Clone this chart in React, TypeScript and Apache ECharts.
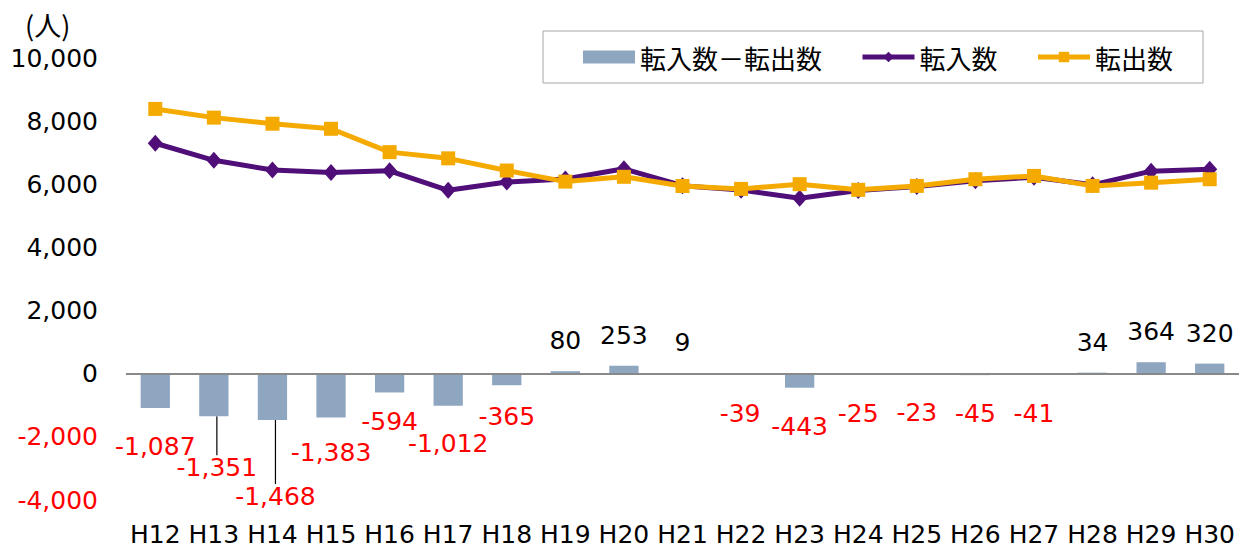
import { useEffect, useRef } from "react";
import * as echarts from "echarts";

const categories = ["H12", "H13", "H14", "H15", "H16", "H17", "H18", "H19", "H20", "H21", "H22", "H23", "H24", "H25", "H26", "H27", "H28", "H29", "H30"];
const netValues = [-1087, -1351, -1468, -1383, -594, -1012, -365, 80, 253, 9, -39, -443, -25, -23, -45, -41, 34, 364, 320];
const inflow = [7300, 6760, 6450, 6375, 6425, 5810, 6070, 6165, 6490, 5955, 5815, 5560, 5800, 5926, 6115, 6224, 5983, 6415, 6480];
const outflow = [8387, 8111, 7918, 7758, 7019, 6822, 6435, 6085, 6237, 5946, 5854, 6003, 5825, 5949, 6160, 6265, 5949, 6051, 6160];
const yTicks = { min: -4000, max: 10000, interval: 2000 };
const seriesNames = ["転入数－転出数", "転入数", "転出数"];
const unitLabel = "(人)";

// label displacement (dx, dy) for each data label, relative to bar end
const labelShift: [number, number][] = [
  [0, 26], [3, 39], [3, 64], [0, 23], [0, 17], [0, 25], [0, 19],
  [0, -18], [0, -18], [0, -18],
  [-1, 26], [0, 26], [0, 26], [0, 26], [0, 26], [0, 26],
  [0, -18], [0, -18], [0, -18],
];
const leaderIdx = [1, 2];

const FONT = '"DejaVu Sans", "Noto Sans CJK JP", sans-serif';
const JP = '"Noto Sans CJK JP", "DejaVu Sans", sans-serif';

const PURPLE = "#4F0E78";
const ORANGE = "#F4AA00";

export default function App() {
  const ref = useRef<HTMLDivElement>(null);
  useEffect(() => {
    if (!ref.current) return;
    const chart = echarts.init(ref.current, null, { renderer: "svg" });
    const fmt = (v: number) => Number(v).toLocaleString("en-US");
    chart.setOption({
      animation: false,
      backgroundColor: "#ffffff",
      textStyle: { fontFamily: FONT },
      grid: { left: 126, right: 7, top: 58, bottom: 50, containLabel: false },
      legend: {
        left: 543,
        top: 31,
        padding: [13, 30, 13, 40],
        borderColor: "#A6A6A6",
        borderWidth: 1,
        itemGap: 38,
        itemWidth: 52,
        itemHeight: 13,
        textStyle: { fontSize: 26, fontFamily: JP, color: "#000000" },
        data: [
          { name: seriesNames[0], icon: "rect" },
          { name: seriesNames[1], lineStyle: { width: 5, color: PURPLE } },
          { name: seriesNames[2], lineStyle: { width: 5, color: ORANGE } },
        ],
      },
      graphic: [
        {
          type: "text",
          left: 25,
          top: 11,
          style: { text: unitLabel, font: `27px ${JP}`, fill: "#000000" },
        },
      ],
      xAxis: {
        type: "category",
        data: categories,
        axisLine: { show: false, onZero: false },
        axisTick: { show: false },
        axisLabel: { fontSize: 25, lineHeight: 25, color: "#000000", margin: 22, fontFamily: FONT, interval: 0 },
        splitLine: { show: false },
      },
      yAxis: {
        type: "value",
        min: yTicks.min,
        max: yTicks.max,
        interval: yTicks.interval,
        axisLine: { show: false },
        axisTick: { show: false },
        splitLine: { show: false },
        axisLabel: {
          fontSize: 25,
          margin: 28,
          padding: [5, 0, 0, 0],
          fontFamily: FONT,
          formatter: (v: number) => fmt(v),
          color: (v: any) => (Number(v) < 0 ? "#FF0000" : "#000000"),
        },
      },
      series: [
        {
          name: seriesNames[0],
          type: "bar",
          barWidth: "50%",
          itemStyle: { color: "#8FA6C1" },
          data: netValues.map((v, i) => ({
            value: v,
            label: {
              position: v < 0 ? "bottom" : "top",
              color: v < 0 ? "#FF0000" : "#000000",
            },
            labelLine: { show: leaderIdx.includes(i) },
          })),
          label: {
            show: true,
            distance: 0,
            fontSize: 25,
            fontFamily: FONT,
            formatter: (p: any) => fmt(p.value),
          },
          labelLine: { show: false, lineStyle: { color: "#000000", width: 1.2 } },
          labelLayout: (p: any) => ({
            dx: labelShift[p.dataIndex][0],
            dy: labelShift[p.dataIndex][1],
          }),
          markLine: {
            silent: true,
            symbol: "none",
            label: { show: false },
            lineStyle: { color: "#898989", type: "solid", width: 2 },
            data: [{ yAxis: 0 }],
          },
          z: 1,
        },
        {
          name: seriesNames[1],
          type: "line",
          data: inflow,
          symbol: "diamond",
          symbolSize: [15, 17],
          lineStyle: { color: PURPLE, width: 5 },
          itemStyle: { color: PURPLE },
          z: 3,
        },
        {
          name: seriesNames[2],
          type: "line",
          data: outflow,
          symbol: "rect",
          symbolSize: 14,
          lineStyle: { color: ORANGE, width: 5 },
          itemStyle: { color: ORANGE },
          z: 4,
        },
      ],
    });
    return () => chart.dispose();
  }, []);
  return (
    <div
      ref={ref}
      style={{ position: "fixed", left: 0, top: 0, width: 1246, height: 550 }}
    />
  );
}
